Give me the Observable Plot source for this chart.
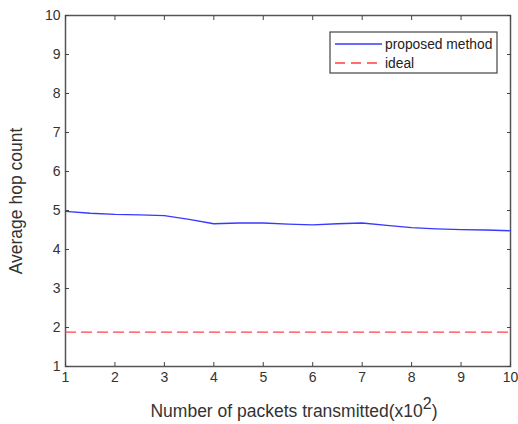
<!DOCTYPE html>
<html><head><meta charset="utf-8">
<script src="https://cdn.jsdelivr.net/npm/d3@7"></script>
<script src="https://cdn.jsdelivr.net/npm/@observablehq/plot@0.6"></script>
<style>body{margin:0;background:#fff}#c{position:relative;width:518px;height:424px}</style>
</head><body><div id="c"></div>
<script>
const xs = [1,1.5,2,2.5,3,3.5,4,4.5,5,5.5,6,6.5,7,7.5,8,8.5,9,9.5,10];
const proposed = [4.98,4.93,4.90,4.89,4.87,4.77,4.66,4.68,4.68,4.65,4.63,4.66,4.68,4.62,4.56,4.53,4.51,4.50,4.48];
const idealX = [1,10];
const idealY = [1.88,1.88];
const xTicks = [1,2,3,4,5,6,7,8,9,10];
const yTicks = [1,2,3,4,5,6,7,8,9,10];
const seriesNames = ["proposed method","ideal"];

const prop = xs.map((x,i)=>({x, y: proposed[i]}));
const ideal = idealX.map((x,i)=>({x, y: idealY[i]}));
const tickColor = "#444";
const font = "Liberation Sans, Arial, sans-serif";

const chart = Plot.plot({
  width: 518, height: 424,
  marginLeft: 65, marginRight: 8, marginTop: 15, marginBottom: 58,
  style: {fontFamily: font, fontSize: "14px", color: "#333", background: "#fff"},
  x: {domain: [1,10]},
  y: {domain: [1,10]},
  marks: [
    Plot.frame({stroke: "#555", strokeWidth: 1.5}),
    Plot.axisX(xTicks, {anchor: "bottom", tickSize: -4, tickPadding: 10, stroke: tickColor, fill: "#333", label: null, fontSize: 14}),
    Plot.axisX(xTicks, {anchor: "top", tickSize: -4, tickFormat: () => "", stroke: tickColor, label: null}),
    Plot.axisY(yTicks, {anchor: "left", tickSize: -4, tickPadding: 9, stroke: tickColor, fill: "#333", label: null, fontSize: 14}),
    Plot.axisY(yTicks, {anchor: "right", tickSize: -4, tickFormat: () => "", stroke: tickColor, label: null}),
    Plot.line(ideal, {x: "x", y: "y", stroke: "#ff4040", strokeWidth: 1.3, strokeDasharray: "10,6"}),
    Plot.line(prop, {x: "x", y: "y", stroke: "#3838ff", strokeWidth: 1.3})
  ]
});
document.getElementById("c").appendChild(chart);

const svg = d3.select(chart);
// axis titles
const xl = svg.append("text").attr("x", 294).attr("y", 417).attr("text-anchor", "middle")
  .attr("font-family", font).attr("font-size", 17.5).attr("fill", "#333");
xl.append("tspan").text("Number of packets transmitted(x10");
xl.append("tspan").attr("dy", -8).attr("font-size", 16).text("2");
xl.append("tspan").attr("dy", 8).text(")");
svg.append("text").attr("transform", "translate(22,201) rotate(-90)").attr("text-anchor", "middle")
  .attr("font-family", font).attr("font-size", 17.5).attr("fill", "#333").text("Average hop count");

// legend
const lg = svg.append("g").attr("text-anchor", "start");
lg.append("rect").attr("x", 330).attr("y", 32).attr("width", 167).attr("height", 41)
  .attr("fill", "#fff").attr("stroke", "#444").attr("stroke-width", 1.2);
const cols = ["#3838ff", "#ff4040"];
const dashes = [null, "10,6"];
seriesNames.forEach((n, i) => {
  const yy = 44 + i * 19;
  lg.append("line").attr("x1", 335).attr("x2", 382).attr("y1", yy).attr("y2", yy)
    .attr("stroke", cols[i]).attr("stroke-width", 1.3).attr("stroke-dasharray", dashes[i]);
  lg.append("text").attr("x", 385).attr("y", yy).attr("dy", "0.35em").attr("text-anchor", "start")
    .attr("font-family", font).attr("font-size", 13.8).attr("fill", "#222").text(n);
});
</script></body></html>
